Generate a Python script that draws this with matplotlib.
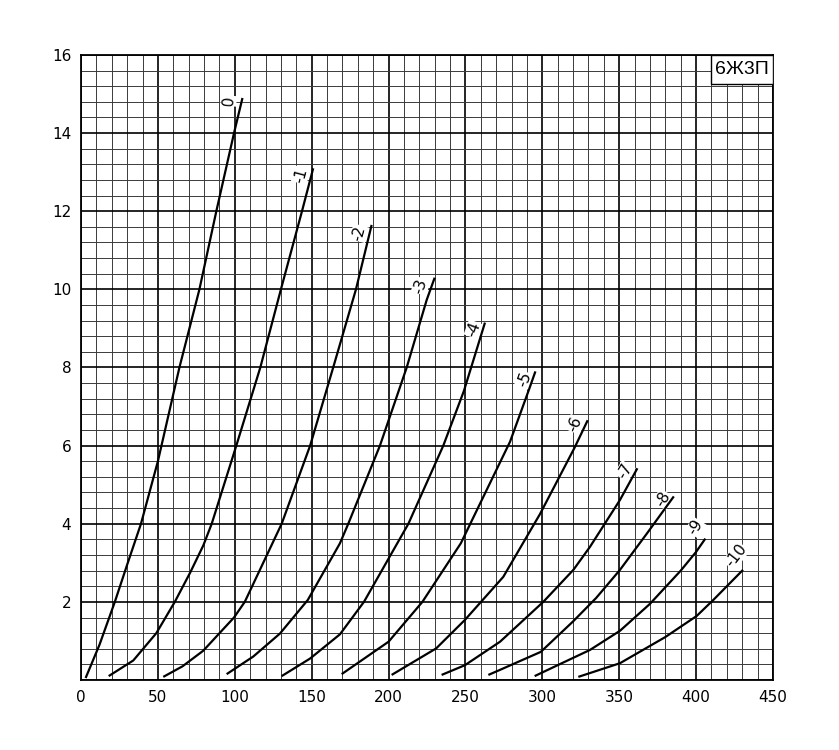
import numpy as np
import matplotlib
matplotlib.use('Agg')
import matplotlib.pyplot as plt
from matplotlib.patches import Rectangle

# plate voltage (V) / plate current (mA), one pair per grid voltage
va_0 = [3, 12, 22, 30, 39, 50, 64, 77, 88, 99.5, 105]
ia_0 = [0.05, 0.9, 2.0, 2.95, 4.0, 5.6, 8.0, 10.0, 12.0, 14.0, 14.9]

va_1 = [18, 34, 49, 61, 71, 79.6, 85, 101, 116.6, 130, 143.7, 151]
ia_1 = [0.1, 0.5, 1.2, 2.0, 2.75, 3.45, 4.0, 6.0, 8.0, 10.0, 12.0, 13.1]

va_2 = [53.5, 66, 79.5, 99.5, 106.5, 130.5, 149, 164, 178.8, 189]
ia_2 = [0.08, 0.35, 0.75, 1.6, 2.0, 4.0, 6.0, 8.0, 10.0, 11.65]

va_3 = [94.7, 112, 129.4, 147.5, 168.4, 173.8, 194.4, 211.8, 224.8, 230]
ia_3 = [0.15, 0.6, 1.19, 2.05, 3.5, 4.0, 6.0, 8.0, 9.73, 10.3]

va_4 = [130.5, 149, 168.4, 184, 212.9, 235.6, 249, 262.7]
ia_4 = [0.1, 0.55, 1.17, 2.0, 4.0, 6.0, 7.4, 9.15]

va_5 = [169.5, 200, 222, 247, 279, 291, 295.5]
ia_5 = [0.15, 0.98, 2.0, 3.5, 6.1, 7.4, 7.9]

va_6 = [202, 231, 249.7, 274.6, 298.5, 321, 329.5]
ia_6 = [0.13, 0.81, 1.54, 2.64, 4.25, 5.95, 6.65]

va_7 = [234.5, 249.7, 272.5, 300.6, 320.2, 331, 350.5, 361.8]
ia_7 = [0.13, 0.38, 0.98, 2.0, 2.82, 3.41, 4.61, 5.42]

va_8 = [264.9, 272.5, 299, 320, 335, 350.5, 368, 385.5]
ia_8 = [0.13, 0.26, 0.72, 1.5, 2.1, 2.82, 3.75, 4.7]

va_9 = [295, 310, 331, 350.5, 370, 390, 400, 406]
ia_9 = [0.1, 0.38, 0.77, 1.26, 1.95, 2.8, 3.28, 3.62]

va_10 = [323.4, 350.5, 380, 400.4, 411.2, 430.5]
ia_10 = [0.08, 0.43, 1.1, 1.64, 2.05, 2.82]

grid_labels = ['0', '-1', '-2', '-3', '-4', '-5', '-6', '-7', '-8', '-9', '-10']
curves = [(va_0, ia_0), (va_1, ia_1), (va_2, ia_2), (va_3, ia_3), (va_4, ia_4),
          (va_5, ia_5), (va_6, ia_6), (va_7, ia_7), (va_8, ia_8), (va_9, ia_9),
          (va_10, ia_10)]

x_ticks = [0, 50, 100, 150, 200, 250, 300, 350, 400, 450]
y_ticks = [0, 2, 4, 6, 8, 10, 12, 14, 16]
y_ticklabels = ['', '2', '4', '6', '8', '10', '12', '14', '16']

# label offsets (points) from the curve end and text angle
label_offsets = [(-10, -2), (-9, -5), (-9, -6), (-10, -6), (-8, -5), (-8, -6),
                 (-9, -3), (-9, -2), (-8, -2), (-7, 8), (-5, 10)]
label_rot = [85, 75, 75, 72, 70, 70, 68, 60, 60, 58, 52]

fig = plt.figure(figsize=(8.39, 7.5), dpi=100)
ax = fig.add_axes([81 / 839, 70 / 750, 692 / 839, 625 / 750])

ax.set_xlim(0, 450)
ax.set_ylim(0, 16)
ax.set_xticks(x_ticks)
ax.set_xticks(np.arange(0, 451, 10), minor=True)
ax.set_yticks(y_ticks)
ax.set_yticks(np.arange(0, 16.01, 0.4), minor=True)
ax.set_yticklabels(y_ticklabels)

ax.grid(which='minor', color='#3a3a3a', lw=0.7)
ax.grid(which='major', color='black', lw=1.2)
ax.set_axisbelow(True)
ax.tick_params(which='both', length=0)
ax.tick_params(which='major', pad=7, labelsize=11)
for s in ax.spines.values():
    s.set_linewidth(1.3)

for (va, ia), lab, off, rot in zip(curves, grid_labels, label_offsets, label_rot):
    ax.plot(va, ia, color='black', lw=1.6, solid_capstyle='butt',
            solid_joinstyle='round', zorder=3)
    ax.annotate(lab, xy=(va[-1], ia[-1]), xytext=off, textcoords='offset points',
                ha='center', va='center', rotation=rot, fontsize=11,
                bbox=dict(facecolor='white', edgecolor='none', pad=0.3), zorder=2.5)

# tube name box in the top right corner
ax.add_patch(Rectangle((0.9104, 0.9536), 0.0896, 0.0464, transform=ax.transAxes,
                       facecolor='white', edgecolor='black', lw=1, zorder=5))
ax.text(0.9552, 0.9768, '6Ж3П', transform=ax.transAxes, ha='center', va='center',
        fontsize=14, family='Liberation Sans', zorder=6)

fig.savefig('out.png', dpi=100)
